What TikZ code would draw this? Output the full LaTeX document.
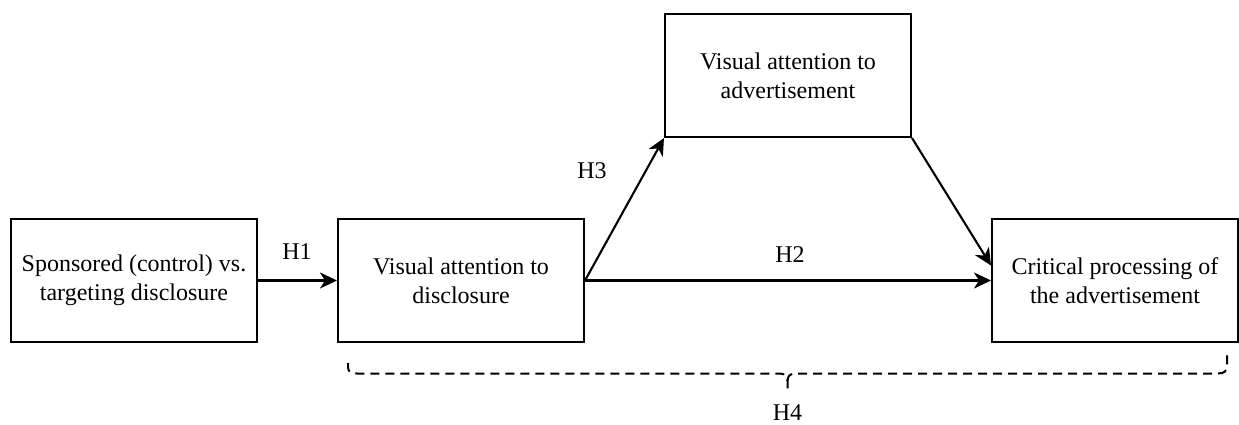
\documentclass[tikz,border=0pt]{standalone}
\usepackage{fontspec}
\setmainfont{Liberation Serif}
\usetikzlibrary{arrows.meta}
\begin{document}
\begin{tikzpicture}[x=1pt,y=-1pt,
  box/.style={draw, line width=2pt, minimum width=246pt, minimum height=123pt,
    inner sep=0pt, align=center, font=\fontsize{24}{29}\selectfont},
  lbl/.style={font=\fontsize{24}{29}\selectfont, inner sep=0pt},
  link/.style={line width=2.1pt, -{Stealth[length=17pt,width=16pt,inset=5pt]}},
  bracket/.style={line width=2pt, dash pattern=on 9pt off 6pt}]
  \useasboundingbox (0,0) rectangle (1239,425);

  % model variables
  \node[box] (src)  at (134,280.5)  {Sponsored (control) vs.\\targeting disclosure};
  \node[box] (vad)  at (461,280.5)  {Visual attention to\\disclosure};
  \node[box] (vaa)  at (788,75.5)   {Visual attention to\\advertisement};
  \node[box] (crit) at (1115,280.5) {Critical processing of\\the advertisement};

  % hypothesised paths
  \draw[link] (src.east) -- (vad.west);
  \draw[link] (vad.east) -- (vaa.south west);
  \draw[link] (vad.east) -- (crit.west);
  \draw[link] (vaa.south east) -- ([yshift=15pt]crit.west);

  \node[lbl] (h1) at (297,252) {H1};
  \node[lbl] (h2) at (790,255) {H2};
  \node[lbl] (h3) at (592,171) {H3};

  % dashed curly bracket spanning the mediation chain
  \coordinate (brL) at (348,363);
  \coordinate (brR) at (1227,353);
  \coordinate (brT) at (787.5,392);
  \draw[bracket] (brL) -- (348,367) .. controls (348,372) and (351,373.5) .. (357,373.5)
    -- (779,373.5) .. controls (785,373.5) and (787.5,376) .. (787.5,381) -- (brT);
  \draw[bracket] (787.5,381) .. controls (787.5,376) and (790,373.5) .. (796,373.5)
    -- (1218,373.5) .. controls (1224,373.5) and (1227,371) .. (1227,366) -- (brR);

  \node[lbl] (h4) at (787.5,413) {H4};
\end{tikzpicture}
\end{document}
